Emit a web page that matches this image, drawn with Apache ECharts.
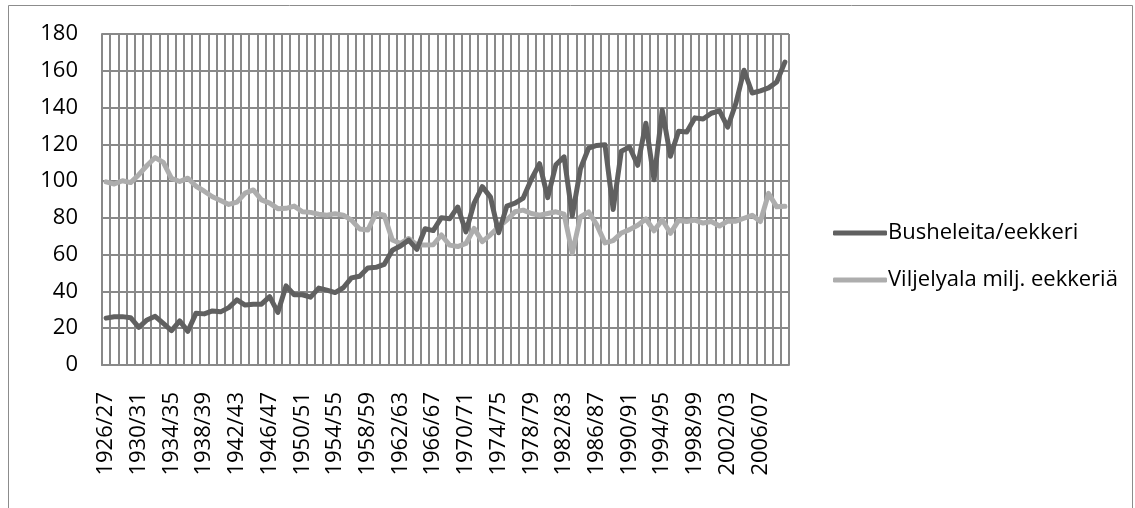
<!DOCTYPE html>
<html>
<head>
<meta charset="utf-8">
<script src="https://cdn.jsdelivr.net/npm/echarts@6/dist/echarts.min.js"></script>
<style>
  html, body { margin: 0; padding: 0; background: #fff; }
  #chart { width: 1135px; height: 508px; }
</style>
</head>
<body>
<div id="chart"></div>
<script>
// Satokaudet 1926/27 – 2009/10
const seasons = [];
for (let y = 1926; y <= 2009; y++) {
  seasons.push(y + '/' + String((y + 1) % 100).padStart(2, '0'));
}

// Sato, bushelia eekkeriltä
const bushelsPerAcre = [
  25.5, 26.2, 26.3, 25.7, 20.5, 24.5, 26.5, 22.6, 18.7, 24.0,
  18.3, 28.2, 27.8, 29.4, 28.9, 31.2, 35.4, 32.6, 33.0, 33.1,
  37.2, 28.6, 43.0, 38.2, 38.2, 36.9, 41.8, 40.7, 39.4, 42.0,
  47.4, 48.3, 52.8, 53.1, 54.7, 62.4, 64.7, 67.9, 62.9, 74.1,
  73.1, 80.1, 79.5, 85.9, 72.4, 88.1, 97.0, 91.3, 71.9, 86.4,
  88.0, 90.8, 101.0, 109.5, 91.0, 108.9, 113.2, 81.1, 106.7, 118.0,
  119.4, 119.8, 84.6, 116.3, 118.5, 108.6, 131.5, 100.7, 138.6, 113.5,
  127.1, 126.7, 134.4, 133.8, 136.9, 138.2, 129.3, 142.2, 160.3, 147.9,
  149.1, 150.7, 153.9, 164.7
];

// Viljelyala, miljoonaa eekkeriä
const acresMillions = [
  99.6, 98.4, 100.2, 99.2, 103.5, 108.5, 112.8, 110.2, 101.5, 99.8,
  101.6, 97.2, 94.5, 91.5, 89.5, 87.3, 88.6, 93.5, 95.2, 89.8,
  88.0, 85.0, 85.2, 86.4, 83.3, 83.0, 82.0, 81.5, 82.2, 81.5,
  78.8, 74.0, 73.4, 82.4, 81.5, 68.0, 66.1, 68.8, 65.4, 65.2,
  65.4, 70.7, 65.2, 64.4, 66.1, 74.3, 67.1, 70.8, 75.2, 78.8,
  83.3, 84.2, 82.4, 81.5, 82.4, 83.3, 82.0, 60.8, 80.6, 83.3,
  76.2, 66.4, 67.6, 71.8, 73.6, 76.0, 79.4, 73.0, 79.0, 71.6,
  78.6, 78.0, 78.8, 77.2, 78.0, 75.6, 78.2, 78.2, 79.8, 81.4,
  78.0, 93.3, 86.0, 86.3
];

const yTicks = { min: 0, max: 180, step: 20 };

const gridColor = '#898989';
const fontFamily = '"Open Sans", "Noto Sans", sans-serif';

const chart = echarts.init(document.getElementById('chart'), null, { renderer: 'canvas' });

chart.setOption({
  animation: false,
  backgroundColor: '#ffffff',
  graphic: [{
    type: 'rect',
    shape: { x: 8.5, y: 5.5, width: 1124, height: 540 },
    style: { fill: 'none', stroke: '#8c8c8c', lineWidth: 1 },
    silent: true,
    z: -1
  }],
  grid: { left: 102, right: 346, top: 34, bottom: 143, containLabel: false },
  legend: {
    orient: 'vertical',
    left: 828,
    top: 215,
    itemWidth: 54,
    itemHeight: 5,
    itemGap: 21,
    icon: 'roundRect',
    textStyle: { fontFamily, fontSize: 22, color: '#000', lineHeight: 26, padding: [0, 0, 0, -4] },
    data: ['Busheleita/eekkeri', 'Viljelyala milj. eekkeriä']
  },
  xAxis: {
    type: 'category',
    data: seasons,
    boundaryGap: true,
    axisLine: { show: true, lineStyle: { color: gridColor, width: 2 } },
    axisTick: { show: false },
    axisLabel: {
      interval: 3,
      rotate: 90,
      margin: 27,
      fontFamily,
      fontSize: 22,
      color: '#000'
    },
    splitLine: { show: true, interval: 0, lineStyle: { color: gridColor, width: 2 } }
  },
  yAxis: {
    type: 'value',
    min: yTicks.min,
    max: yTicks.max,
    interval: yTicks.step,
    axisLine: { show: true, lineStyle: { color: gridColor, width: 2 } },
    axisTick: { show: false },
    axisLabel: { margin: 24, fontFamily, fontSize: 22, color: '#000' },
    splitLine: { show: true, lineStyle: { color: gridColor, width: 2 } }
  },
  series: [
    {
      name: 'Busheleita/eekkeri',
      type: 'line',
      data: bushelsPerAcre,
      showSymbol: false,
      symbol: 'none',
      color: '#606060',
      lineStyle: { width: 5, color: '#606060', join: 'round', cap: 'round' },
      z: 3
    },
    {
      name: 'Viljelyala milj. eekkeriä',
      type: 'line',
      data: acresMillions,
      showSymbol: false,
      symbol: 'none',
      color: '#adadad',
      lineStyle: { width: 5, color: '#adadad', join: 'round', cap: 'round' },
      z: 2
    }
  ]
});
</script>
</body>
</html>
